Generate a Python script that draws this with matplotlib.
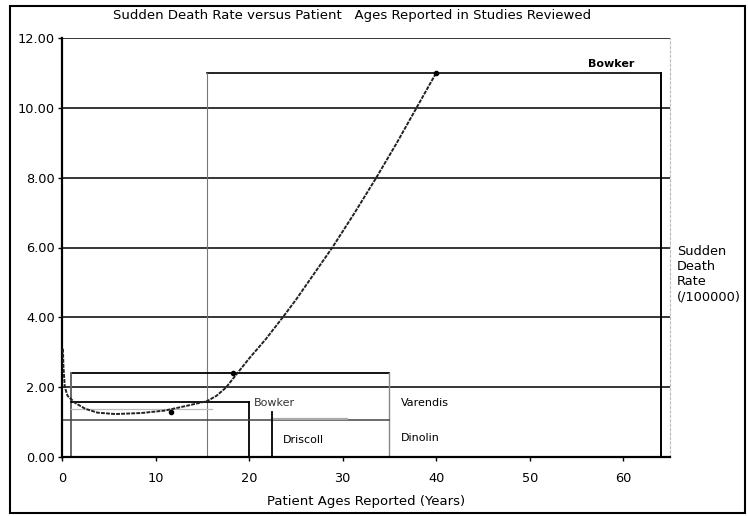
import matplotlib
matplotlib.use("Agg")
import matplotlib.pyplot as plt
from matplotlib.patches import Rectangle

# ---- data ----
title = "Sudden Death Rate versus Patient   Ages Reported in Studies Reviewed"
xlabel = "Patient Ages Reported (Years)"
ylabel_right = "Sudden\nDeath\nRate\n(/100000)"
x_ticks = [0, 10, 20, 30, 40, 50, 60]
y_ticks = [0, 2, 4, 6, 8, 10, 12]

# trend curve (age, rate)
curve_x = [0.1, 0.15, 0.3, 0.6, 1.4, 2.5, 3.8, 5.7, 8.5, 11.0, 13.4, 15.5, 16.5, 17.5, 18.6,
           20.0, 21.8, 23.6, 25.0, 26.3, 28.9, 31.3, 33.6, 35.8, 37.9, 40.0]
curve_y = [3.1, 2.6, 2.0, 1.75, 1.55, 1.38, 1.27, 1.23, 1.26, 1.33, 1.47, 1.6, 1.75, 1.98, 2.35,
           2.82, 3.38, 4.0, 4.5, 5.0, 6.0, 7.0, 8.0, 9.0, 10.0, 11.0]
marker_x = [11.7, 18.3, 40.0]
marker_y = [1.29, 2.4, 11.0]

# study age ranges (start age, end age, rate)
study_names = ["Bowker", "Varendis", "Bowker", "Dinolin"]
study_x0 = [15.5, 1.0, 1.0, 0.0]
study_x1 = [64.0, 35.0, 20.0, 35.0]
study_rate = [11.0, 2.4, 1.57, 1.06]
driscoll_age = 22.5
driscoll_rate = 1.3

# ---- figure ----
fig = plt.figure(figsize=(7.48, 5.16), dpi=100)
fig.patch.set_facecolor("white")
ax = fig.add_axes([62/748, 59/516, 608/748, 419/516])
ax.set_xlim(0, 65)
ax.set_ylim(0, 12)

# gridlines
for yv in y_ticks[1:]:
    ax.axhline(yv, color="black", lw=1.1, zorder=1)

# Bowker big box
ax.plot([study_x0[0], study_x1[0]], [study_rate[0]]*2, color="black", lw=1.2)
ax.plot([study_x1[0]]*2, [0, study_rate[0]], color="black", lw=1.4)
ax.plot([study_x0[0]]*2, [0, study_rate[0]], color="#777777", lw=0.8)
# Varendis box
ax.plot([study_x0[1], study_x1[1]], [study_rate[1]]*2, color="black", lw=1.3)
ax.plot([study_x0[1]]*2, [0, study_rate[1]], color="#666666", lw=1.4)
ax.plot([study_x1[1]]*2, [0, study_rate[1]], color="#888888", lw=1.0)
# Bowker small box
ax.plot([study_x0[2], study_x1[2]], [study_rate[2]]*2, color="black", lw=1.3)
ax.plot([study_x1[2]]*2, [0, study_rate[2]], color="black", lw=1.3)
# Dinolin
ax.plot([study_x0[3], study_x1[3]], [study_rate[3]]*2, color="#444444", lw=1.1)
ax.plot([22.5, 30.5], [1.09, 1.09], color="#aaaaaa", lw=1.6)
ax.plot([1.0, 16.0], [1.37, 1.37], color="#bbbbbb", lw=0.9)
# Driscoll
ax.plot([driscoll_age]*2, [0, driscoll_rate], color="black", lw=1.3)

# curve
ax.plot(curve_x, curve_y, color="#222222", lw=1.4, ls=(0, (2, 0.6)), zorder=3)
ax.plot(marker_x, marker_y, ls="none", marker="o", ms=3, color="black", zorder=4)

# labels
fs = 8
ax.text(56.2, 11.12, study_names[0], fontsize=fs, fontweight="bold", va="bottom", ha="left")
ax.text(20.5, 1.54, study_names[2], fontsize=fs, va="center", ha="left", color="#333333")
ax.text(23.6, 0.5, "Driscoll", fontsize=fs, va="center", ha="left")
ax.text(36.2, 1.54, study_names[1], fontsize=fs, va="center", ha="left")
ax.text(36.2, 0.55, study_names[3], fontsize=fs, va="center", ha="left")

# axes styling
ax.set_xticks(x_ticks)
ax.set_xticklabels([str(v) for v in x_ticks])
ax.set_yticks(y_ticks)
ax.set_yticklabels(["%.2f" % v for v in y_ticks])
ax.tick_params(axis="both", labelsize=9.3, length=3, width=1, direction="out", color="black")
ax.tick_params(axis="x", pad=8)
ax.tick_params(axis="y", pad=2)
for s in ["left", "bottom"]:
    ax.spines[s].set_linewidth(1.6)
ax.spines["top"].set_visible(False)
ax.spines["right"].set_color("#bbbbbb")
ax.spines["right"].set_linestyle((0, (2, 2)))

ax.set_xlabel(xlabel, fontsize=9.5, labelpad=7)
fig.text(352/748, 1 - 15/516, title, fontsize=9.5, ha="center", va="center")
fig.text(677/748, 1 - 245/516, ylabel_right, fontsize=9.3, ha="left", va="top", linespacing=1.2)

# outer frame
fig.add_artist(Rectangle((10/748, 3/516), 735/748, 507/516, transform=fig.transFigure,
                         fill=False, ec="black", lw=1.5))

fig.savefig("out.png", dpi=100)
